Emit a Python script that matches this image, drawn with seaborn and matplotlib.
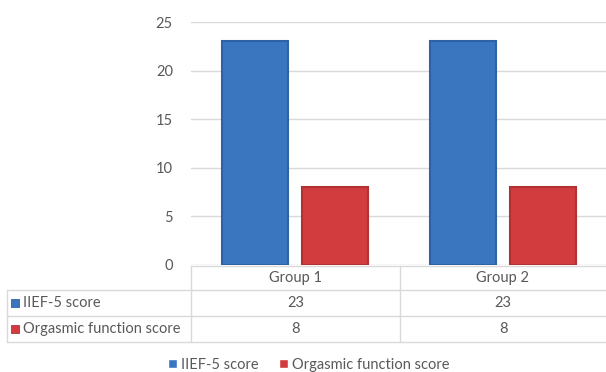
import matplotlib
matplotlib.use("Agg")
import matplotlib.pyplot as plt
import seaborn as sns
import pandas as pd
from matplotlib.patches import Rectangle
from matplotlib.lines import Line2D

groups = ["Group 1", "Group 2"]
series_names = ["IIEF-5 score", "Orgasmic function score"]
iief_scores = [23, 23]
orgasmic_scores = [8, 8]
y_ticks = [0, 5, 10, 15, 20, 25]

colors = ["#3A76C0", "#D23C3E"]
edges = ["#2F62A4", "#B03234"]
text_color = "#595959"
line_color = "#D9D9D9"
FS = 10.5

sns.set_theme(style="white")
plt.rcParams["font.family"] = ["Lato", "DejaVu Sans"]

rows = []
for g, a, b in zip(groups, iief_scores, orgasmic_scores):
    rows.append({"group": g, "series": series_names[0], "score": a})
    rows.append({"group": g, "series": series_names[1], "score": b})
df = pd.DataFrame(rows)

W, H = 606, 372
fig = plt.figure(figsize=(W / 100, H / 100), dpi=100)
fig.patch.set_facecolor("white")

def fx(px):
    return px / W

def fy(py):
    return 1 - py / H

ax_left, ax_right, ax_top, ax_bottom = 191, 607, 22, 265
ax = fig.add_axes([fx(ax_left), fy(ax_bottom), fx(ax_right - ax_left), (ax_bottom - ax_top) / H])

sns.barplot(data=df, x="group", y="score", hue="series", palette=colors,
            width=0.77, gap=0.175, ax=ax, saturation=1, legend=True)

for cont, ec in zip(ax.containers, edges):
    for p in cont:
        p.set_edgecolor(ec)
        p.set_linewidth(1.5)

ax.set_ylim(0, 25)
ax.set_yticks(y_ticks)
ax.set_yticklabels([str(t) for t in y_ticks], fontsize=FS, color=text_color)
ax.tick_params(axis="y", length=0, pad=13)
ax.set_xticks([])
ax.set_xlabel("")
ax.set_ylabel("")
for s in ax.spines.values():
    s.set_visible(False)
ax.yaxis.grid(True, color=line_color, linewidth=1)
ax.set_axisbelow(True)

handles, labels = ax.get_legend_handles_labels()
ax.get_legend().remove()

# --- data table ---
row_lines = [266, 290, 316, 342]

def hline(x0, x1, y):
    fig.add_artist(Line2D([fx(x0), fx(x1)], [fy(y), fy(y)], color=line_color, linewidth=1))

def vline(x, y0, y1):
    fig.add_artist(Line2D([fx(x), fx(x)], [fy(y0), fy(y1)], color=line_color, linewidth=1))

hline(191, 606, row_lines[0])
for y in row_lines[1:]:
    hline(7, 606, y)
vline(7, row_lines[1], row_lines[3])
vline(191, row_lines[0], row_lines[3])
vline(400, row_lines[0], row_lines[3])

centers = [295.5, 503]
for g, cx in zip(groups, centers):
    fig.text(fx(cx), fy((row_lines[0] + row_lines[1]) / 2), g, ha="center", va="center",
             fontsize=FS, color=text_color)

table_vals = [iief_scores, orgasmic_scores]
for i, (name, vals) in enumerate(zip(series_names, table_vals)):
    yc = (row_lines[i + 1] + row_lines[i + 2]) / 2
    fig.add_artist(Rectangle((fx(11), fy(yc + 4)), fx(8), 8 / H, facecolor=colors[i],
                             edgecolor=edges[i], linewidth=0.6, transform=fig.transFigure))
    fig.text(fx(23), fy(yc), name, ha="left", va="center", fontsize=FS, color=text_color)
    for v, cx in zip(vals, centers):
        fig.text(fx(cx), fy(yc), str(v), ha="center", va="center", fontsize=FS, color=text_color)

leg = fig.legend(handles, labels, loc="center", bbox_to_anchor=(fx(309), fy(365)), ncol=2,
                 frameon=False, fontsize=FS, handlelength=0.6, handleheight=0.6,
                 handletextpad=0.3, columnspacing=1.4, labelcolor=text_color)

fig.savefig("out.png", dpi=100, facecolor="white")
